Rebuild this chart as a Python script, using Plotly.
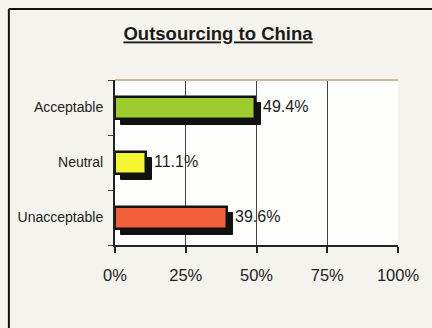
import plotly.graph_objects as go

categories = ["Unacceptable", "Neutral", "Acceptable"]
values = [39.6, 11.1, 49.4]
colors = ["#f2603a", "#f5f532", "#9ccc2e"]
labels = ["39.6%", "11.1%", "49.4%"]
x_ticks = [0, 25, 50, 75, 100]
x_tick_text = ["0%", "25%", "50%", "75%", "100%"]

shadow_dx = 2.1   # in % units
shadow_dy = 0.12  # in category units
bar_w = 0.40

FONT = "Liberation Sans, Arial"

fig = go.Figure()

# shadow bars (on yaxis, shifted range)
fig.add_trace(go.Bar(
    y=categories, x=values, base=shadow_dx, orientation="h",
    marker=dict(color="#111111", line=dict(color="#111111", width=1)),
    width=bar_w, yaxis="y", xaxis="x", showlegend=False, hoverinfo="skip"))

# main bars
fig.add_trace(go.Bar(
    y=categories, x=values, orientation="h",
    marker=dict(color=colors, line=dict(color="#111111", width=2.5)),
    width=bar_w, yaxis="y2", xaxis="x", showlegend=False))

for c, v, t in zip(categories, values, labels):
    fig.add_annotation(x=v + shadow_dx, y=c, xref="x", yref="y2", text=t,
                       showarrow=False, xanchor="left", xshift=0, yshift=1,
                       font=dict(family=FONT, size=16, color="#222"))

fig.update_layout(
    width=432, height=328,
    margin=dict(l=115, r=34, t=80, b=83),
    paper_bgcolor="#f5f3ee",
    plot_bgcolor="#fdfdfb",
    bargap=0,
    title=dict(text="<b><u>Outsourcing to China</u></b>", x=218 / 432, xref="container",
               xanchor="center", y=1 - 34 / 328, yref="container", yanchor="middle",
               font=dict(family=FONT, size=18.5, color="#1a1a1a")),
    xaxis=dict(range=[0, 100], tickvals=x_ticks, ticktext=x_tick_text,
               showgrid=True, gridcolor="#444444", gridwidth=1,
               showline=True, linecolor="#222222", linewidth=2,
               ticks="outside", ticklen=6, tickcolor="#222222", tickwidth=1.5,
               ticklabelstandoff=8,
               tickfont=dict(family=FONT, size=16.5, color="#222"),
               zeroline=False, fixedrange=True),
    yaxis=dict(type="category", categoryarray=categories,
               range=[-0.5 + shadow_dy, 2.5 + shadow_dy],
               visible=False, fixedrange=True),
    yaxis2=dict(type="category", categoryarray=categories, overlaying="y",
                side="left", range=[-0.5, 2.5],
                showline=True, linecolor="#222222", linewidth=2,
                ticks="outside", tickson="boundaries", ticklen=5, tickcolor="#444",
                ticklabelstandoff=7,
                showgrid=False,
                tickfont=dict(family=FONT, size=14, color="#222"),
                fixedrange=True),
    shapes=[
        # tan top border of plot area
        dict(type="line", xref="paper", yref="paper", x0=0, x1=1, y0=1, y1=1,
             line=dict(color="#c9b996", width=2)),
        # outer frame: left and top lines
        dict(type="line", xref="paper", yref="paper", x0=-0.375, x1=-0.375, y0=1.43, y1=-0.6,
             line=dict(color="#111111", width=2)),
        dict(type="line", xref="paper", yref="paper", x0=-0.375, x1=1.2, y0=1.43, y1=1.43,
             line=dict(color="#111111", width=2)),
    ],
)

fig.write_html("out.html")
